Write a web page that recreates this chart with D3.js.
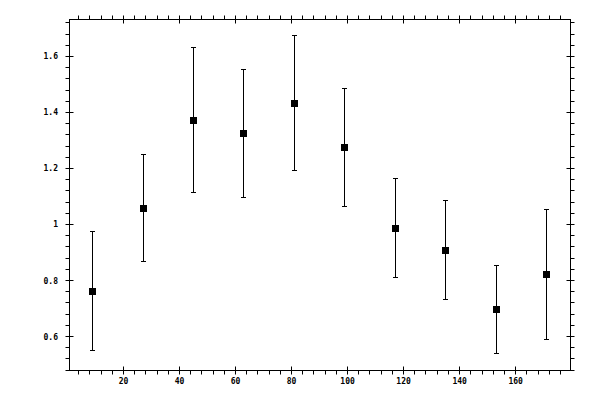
<!DOCTYPE html>
<html>
<head>
<meta charset="utf-8">
<script src="https://cdn.jsdelivr.net/npm/d3@7"></script>
<style>
html, body { margin: 0; padding: 0; background: #fff; }
svg { display: block; }
text { font-family: "DejaVu Sans Mono", monospace; font-size: 8px; font-weight: bold; fill: #000; }
</style>
</head>
<body>
<svg id="chart" width="600" height="400"></svg>
<script>
// Data
const xValues = [9, 27, 45, 63, 81, 99, 117, 135, 153, 171];
const yValues = [0.762, 1.057, 1.371, 1.325, 1.432, 1.275, 0.986, 0.908, 0.696, 0.821];
const yUpper  = [0.975, 1.250, 1.632, 1.554, 1.675, 1.486, 1.164, 1.086, 0.854, 1.054];
const yLower  = [0.550, 0.869, 1.114, 1.096, 1.193, 1.064, 0.811, 0.732, 0.539, 0.589];
const xMajorTicks = [20, 40, 60, 80, 100, 120, 140, 160];
const yMajorTicks = [0.6, 0.8, 1.0, 1.2, 1.4, 1.6];
const xMinorStep = 4;
const yMinorStep = 0.04;

const svg = d3.select("#chart");
const pLeft = 69.5, pRight = 570.5, pTop = 19.5, pBottom = 370.5;

const x = d3.scaleLinear().domain([0.7, 179.6]).range([pLeft, pRight]);
const y = d3.scaleLinear().domain([0.4786, 1.7321]).range([pBottom, pTop]);

const xMinor = d3.range(4, 180, xMinorStep).filter(v => v % 20 !== 0);
const yMinor = d3.range(0, 45).map(i => +(0.48 + i * yMinorStep).toFixed(2))
  .filter(v => v <= 1.73 && Math.abs(v * 5 - Math.round(v * 5)) > 1e-6);

const g = svg.append("g");

// Frame
g.append("rect").attr("x", pLeft).attr("y", pTop)
  .attr("width", pRight - pLeft).attr("height", pBottom - pTop)
  .attr("fill", "none").attr("stroke", "#000").attr("stroke-width", 1);

const snap = v => Math.round(v - 0.5) + 0.5;

function hTick(xv, y1, y2) {
  g.append("line").attr("x1", snap(x(xv))).attr("x2", snap(x(xv)))
    .attr("y1", y1).attr("y2", y2).attr("stroke", "#000").attr("stroke-width", 1);
}
function vTick(yv, x1, x2) {
  g.append("line").attr("y1", snap(y(yv))).attr("y2", snap(y(yv)))
    .attr("x1", x1).attr("x2", x2).attr("stroke", "#000").attr("stroke-width", 1);
}

// X ticks (bottom & top)
xMajorTicks.forEach(v => { hTick(v, pBottom - 4, pBottom + 4); hTick(v, pTop - 4, pTop + 4); });
xMinor.forEach(v => { hTick(v, pBottom, pBottom + 4); hTick(v, pTop - 4, pTop); });
// Y ticks (left & right)
yMajorTicks.forEach(v => { vTick(v, pLeft - 4, pLeft + 4); vTick(v, pRight - 4, pRight + 4); });
yMinor.forEach(v => { vTick(v, pLeft - 4, pLeft); vTick(v, pRight, pRight + 4); });

// Labels
g.selectAll(".xl").data(xMajorTicks).enter().append("text")
  .attr("x", d => x(d)).attr("y", 384).attr("text-anchor", "middle")
  .text(d => d3.format("d")(d));
g.selectAll(".yl").data(yMajorTicks).enter().append("text")
  .attr("x", 58).attr("y", d => y(d) + 3).attr("text-anchor", "end")
  .text(d => String(+d.toFixed(1)));

// Error bars
const pts = xValues.map((xv, i) => ({ x: xv, y: yValues[i], hi: yUpper[i], lo: yLower[i] }));
const eb = g.selectAll(".eb").data(pts).enter().append("g");
eb.append("line")
  .attr("x1", d => snap(x(d.x))).attr("x2", d => snap(x(d.x)))
  .attr("y1", d => y(d.hi)).attr("y2", d => y(d.lo))
  .attr("stroke", "#000").attr("stroke-width", 1);
eb.append("line")
  .attr("x1", d => snap(x(d.x)) - 2.5).attr("x2", d => snap(x(d.x)) + 2.5)
  .attr("y1", d => snap(y(d.hi))).attr("y2", d => snap(y(d.hi)))
  .attr("stroke", "#000").attr("stroke-width", 1);
eb.append("line")
  .attr("x1", d => snap(x(d.x)) - 2.5).attr("x2", d => snap(x(d.x)) + 2.5)
  .attr("y1", d => snap(y(d.lo))).attr("y2", d => snap(y(d.lo)))
  .attr("stroke", "#000").attr("stroke-width", 1);
eb.append("rect")
  .attr("x", d => snap(x(d.x)) - 3.5).attr("y", d => snap(y(d.y)) - 3.5)
  .attr("width", 7).attr("height", 7).attr("fill", "#000");
</script>
</body>
</html>
